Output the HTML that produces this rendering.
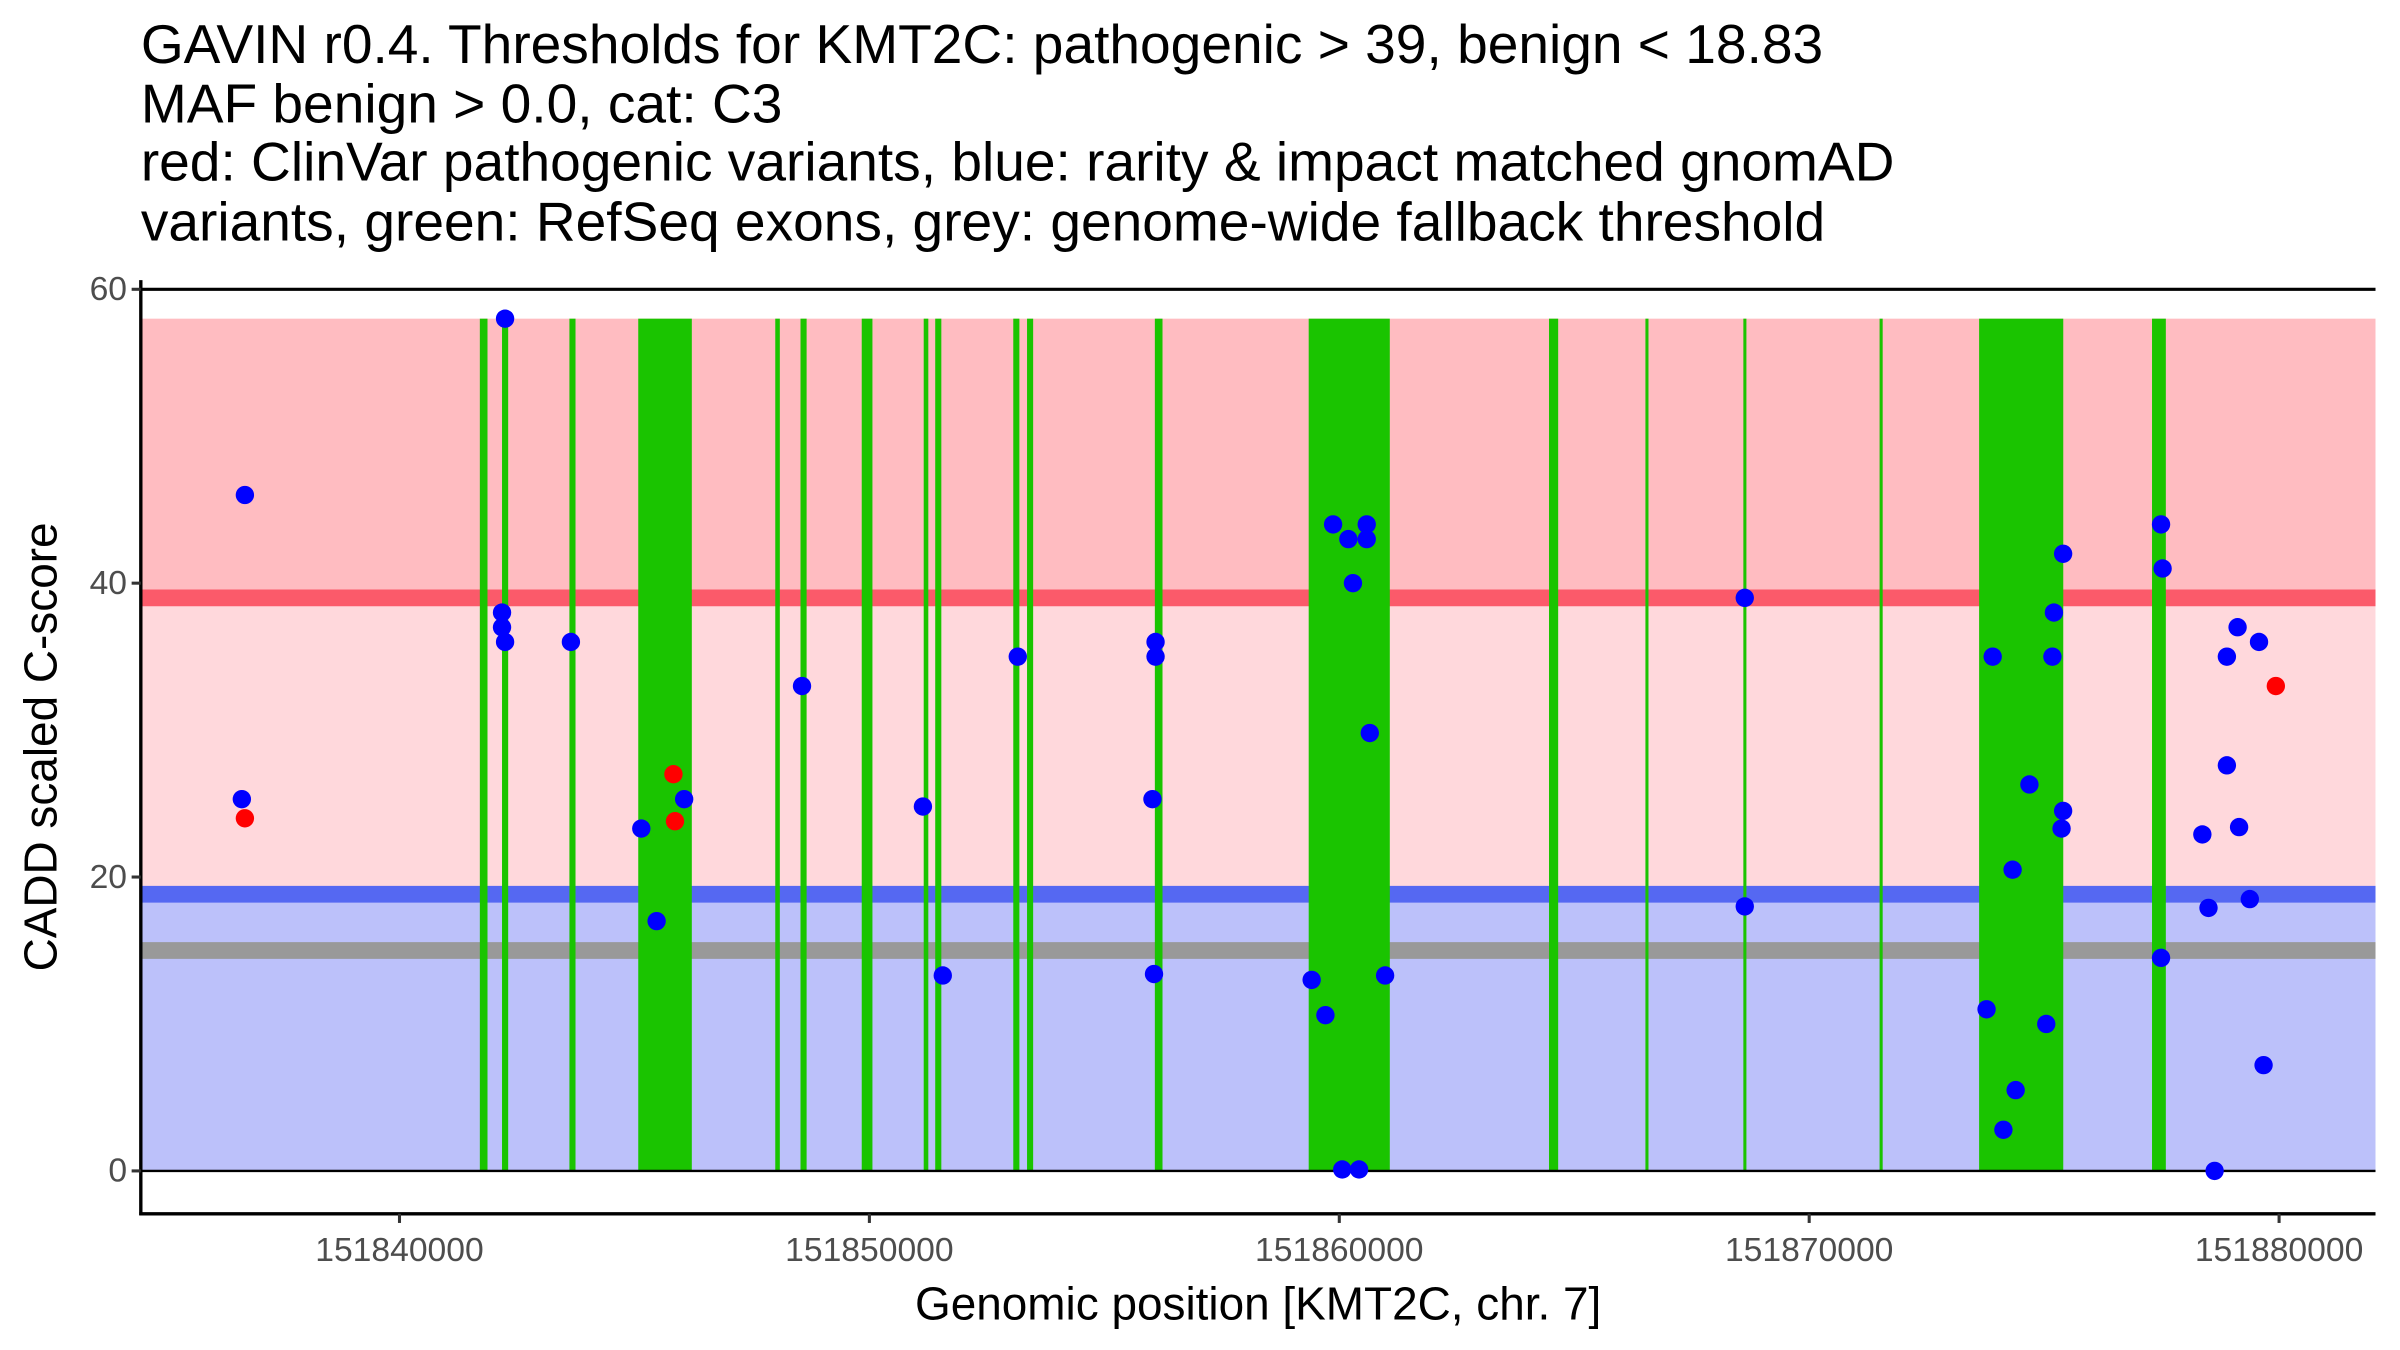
<!DOCTYPE html>
<html><head><meta charset="utf-8"><style>
html,body{margin:0;padding:0;background:#fff}
svg{display:block}
text{font-family:"Liberation Sans",Arial,sans-serif}
</style></head><body>
<svg id="chart" width="2400" height="1350" viewBox="0 0 1568 882" xmlns="http://www.w3.org/2000/svg">
<g font-size="36" fill="#000">
<text x="92" y="41">GAVIN r0.4. Thresholds for KMT2C: pathogenic &gt; 39, benign &lt; 18.83</text>
<text x="92" y="80">MAF benign &gt; 0.0, cat: C3</text>
<text x="92" y="118">red: ClinVar pathogenic variants, blue: rarity &amp; impact matched gnomAD</text>
<text x="92" y="157">variants, green: RefSeq exons, grey: genome-wide fallback threshold</text>
</g>
<g id="plot"></g>
</svg>
<script>
const exonStarts=[151841710,151842182,151843616,151845081,151847997,151848534,151849837,151851156,151851401,151853062,151853355,151856075,151859349,151864463,151866515,151868599,151871498,151873616,151877296];
const exonEnds=[151841873,151842313,151843746,151846221,151848094,151848664,151850065,151851254,151851531,151853192,151853485,151856238,151861075,151864658,151866580,151868664,151871564,151875407,151877590];
const bluePos=[151836710,151836645,151842247,151842182,151842182,151842247,151843648,151845146,151845472,151846058,151848566,151851139,151851562,151853158,151856090,151856090,151856024,151856057,151859412,151859705,151859868,151860193,151860291,151860584,151860584,151860649,151860975,151860063,151860421,151868629,151868629,151873905,151873775,151874133,151874329,151874394,151874687,151875045,151875208,151875176,151875404,151875404,151875371,151877488,151877521,151877488,151878367,151878498,151878628,151878889,151878889,151879117,151879149,151879377,151879573,151879670];
const blueScore=[46,25.3,58,38,37,36,36,23.3,17,25.3,33,24.8,13.3,35,36,35,25.3,13.4,13,10.6,44,43,40,44,43,29.8,13.3,0.1,0.1,39,18,35,11,2.8,20.5,5.5,26.3,10,38,35,42,24.5,23.3,44,41,14.5,22.9,17.9,0,35,27.6,37,23.4,18.5,36,7.2];
const redPos=[151836710,151845830,151845863,151879931];
const redScore=[24,27,23.8,33];
const xTicks=[151840000,151850000,151860000,151870000,151880000];
const yTicks=[0,20,40,60];
const pathoThr=39, benignThr=18.83, fallbackThr=15, bandTop=58;

const NS="http://www.w3.org/2000/svg";
const g=document.getElementById('plot');
const X0=92,X1=1552;
const xs=v=>261+(v-151840000)*307/10000;
const ys=v=>765-v*9.6;
function el(t,a,p){const e=document.createElementNS(NS,t);for(const k in a)e.setAttribute(k,a[k]);(p||g).appendChild(e);return e;}
function rect(y0,y1,fill,name){const r=el('rect',{x:X0,y:ys(y1),width:X1-X0,height:ys(y0)-ys(y1),fill:fill});

}
rect(pathoThr,bandTop,'#ffbcc1','pathogenic-band');
rect(benignThr,pathoThr,'#ffd8dc','intermediate-band');
rect(0,benignThr,'#bcc1fa','benign-band');
function hl(v,c,name){const l=el('line',{x1:X0,x2:X1,y1:ys(v),y2:ys(v),stroke:c,'stroke-width':11});

}
hl(pathoThr,'#fb5a6a','pathogenic-threshold-line');
hl(benignThr,'#5568f2','benign-threshold-line');
hl(fallbackThr,'#999999','fallback-threshold-line');
exonStarts.forEach((s,i)=>{const x0=xs(s),x1=xs(exonEnds[i]);
const r=el('rect',{x:x0,y:ys(bandTop),width:Math.max(2,x1-x0),height:ys(0)-ys(bandTop),fill:'#1ac400'});

});
const topLine=el('line',{x1:X0,x2:X1,y1:ys(60),y2:ys(60),stroke:'#000','stroke-width':2});


const zeroLine=el('line',{x1:X0,x2:X1,y1:ys(0),y2:ys(0),stroke:'#000','stroke-width':1.5});


bluePos.forEach((p,i)=>{const c=el('circle',{cx:xs(p),cy:ys(blueScore[i]),r:6,fill:'#0000ff'});

});
redPos.forEach((p,i)=>{const c=el('circle',{cx:xs(p),cy:ys(redScore[i]),r:6,fill:'#ff0000'});

});
const yAxisLine=el('line',{x1:X0,x2:X0,y1:183,y2:794,stroke:'#000','stroke-width':2.2});


const xAxisLine=el('line',{x1:X0-1,x2:X1,y1:793,y2:793,stroke:'#000','stroke-width':2.2});


yTicks.forEach(v=>{const y=ys(v);
const t=el('line',{x1:X0-6,x2:X0,y1:y,y2:y,stroke:'#333','stroke-width':2});


const l=el('text',{x:X0-9,y:y+7,'text-anchor':'end','font-size':22,fill:'#4d4d4d'});l.textContent=v;

});
xTicks.forEach(v=>{const x=xs(v);
const t=el('line',{x1:x,x2:x,y1:793,y2:799,stroke:'#333','stroke-width':2});


const l=el('text',{x:x,y:824,'text-anchor':'middle','font-size':22,fill:'#4d4d4d'});l.textContent=v;

});
const xTitle=el('text',{x:822,y:862,'text-anchor':'middle','font-size':30,fill:'#000'});xTitle.textContent='Genomic position [KMT2C, chr. 7]';


const yTitle=el('text',{x:0,y:0,'text-anchor':'middle','font-size':30,fill:'#000',transform:'translate(37,488) rotate(-90)'});yTitle.textContent='CADD scaled C-score';


</script>
</body></html>
